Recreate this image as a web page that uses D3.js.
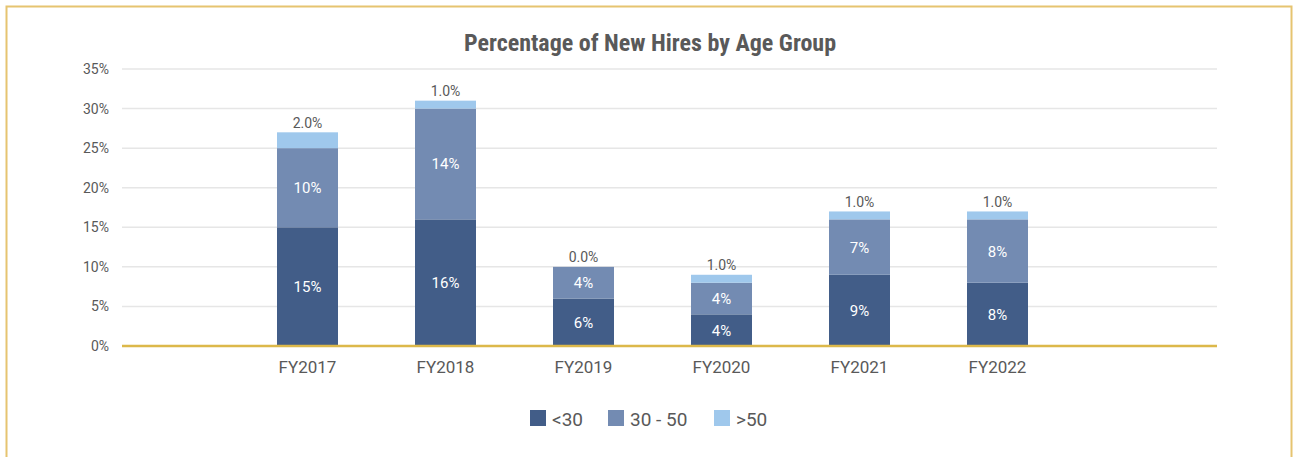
<!DOCTYPE html>
<html>
<head>
<meta charset="utf-8">
<script src="https://cdn.jsdelivr.net/npm/d3@7"></script>
<style>
  html, body { margin: 0; padding: 0; background: #fff; }
  svg text { font-family: Roboto, "Liberation Sans", sans-serif; }
  svg text.title { font-family: "Liberation Sans Narrow", "Arial Narrow", "Roboto Condensed", sans-serif; }
</style>
</head>
<body>
<svg id="chart" width="1293" height="457"></svg>
<script>
// Fiscal years and share of new hires per age group (%)
const years = ["FY2017", "FY2018", "FY2019", "FY2020", "FY2021", "FY2022"];
const under30 = [15, 16, 6, 4, 9, 8];
const age30to50 = [10, 14, 4, 4, 7, 8];
const over50 = [2.0, 1.0, 0.0, 1.0, 1.0, 1.0];
const groupNames = ["<30", "30 - 50", ">50"];
const groupColors = ["#425d88", "#738bb2", "#9fc8ec"];
const yTicks = [0, 5, 10, 15, 20, 25, 30, 35];

const svg = d3.select("#chart");

// Outer frame
svg.append("rect")
  .attr("x", 6.5).attr("y", 6.5)
  .attr("width", 1285).attr("height", 470)
  .attr("fill", "none")
  .attr("stroke", "#e6c470")
  .attr("stroke-width", 2);

const plotLeft = 122, plotRight = 1217;
const y = d3.scaleLinear().domain([0, 35]).range([346, 69]);
const x = d3.scaleBand().domain(years).range([238.5, 1066.5]).paddingInner(0.558).paddingOuter(0.279);

// Title
svg.append("text")
  .attr("class", "title")
  .attr("x", 650).attr("y", 51)
  .attr("text-anchor", "middle")
  .attr("font-size", 24)
  .attr("font-weight", "bold")
  .attr("fill", "#595959")
  .text("Percentage of New Hires by Age Group");

// Gridlines
svg.append("g").selectAll("line")
  .data(yTicks.filter(d => d > 0))
  .join("line")
  .attr("x1", plotLeft).attr("x2", plotRight)
  .attr("y1", d => y(d)).attr("y2", d => y(d))
  .attr("stroke", "#e6e6e6").attr("stroke-width", 1.5);

// Y axis labels
const yAxis = d3.axisLeft(y).tickValues(yTicks).tickFormat(d => d + "%").tickSize(0).tickPadding(0);
svg.append("g")
  .attr("transform", `translate(109,0)`)
  .call(yAxis)
  .call(g => g.select(".domain").remove())
  .call(g => g.selectAll("text").attr("font-size", 14).attr("fill", "#595959"));

// Stacked data
const rows = years.map((yr, i) => ({ year: yr, a: under30[i], b: age30to50[i], c: over50[i] }));
const stack = d3.stack().keys(["a", "b", "c"])(rows);

const layers = svg.append("g").selectAll("g")
  .data(stack)
  .join("g")
  .attr("fill", (d, i) => groupColors[i]);

layers.selectAll("rect")
  .data(d => d)
  .join("rect")
  .attr("x", d => x(d.data.year))
  .attr("width", x.bandwidth())
  .attr("y", d => y(d[1]))
  .attr("height", d => y(d[0]) - y(d[1]));

// Segment labels inside bars (two lower groups)
stack.slice(0, 2).forEach(layer => {
  svg.append("g").selectAll("text")
    .data(layer)
    .join("text")
    .attr("x", d => x(d.data.year) + x.bandwidth() / 2)
    .attr("y", d => (y(d[0]) + y(d[1])) / 2 + 5.5)
    .attr("text-anchor", "middle")
    .attr("font-size", 15)
    .attr("fill", "#ffffff")
    .text(d => (d[1] - d[0]) + "%");
});

// Labels above bars for the oldest group
svg.append("g").selectAll("text")
  .data(stack[2])
  .join("text")
  .attr("x", d => x(d.data.year) + x.bandwidth() / 2)
  .attr("y", d => y(d[1]) - 4.5)
  .attr("text-anchor", "middle")
  .attr("font-size", 14)
  .attr("fill", "#595959")
  .text(d => (d[1] - d[0]).toFixed(1) + "%");

// X axis baseline
svg.append("line")
  .attr("x1", plotLeft).attr("x2", plotRight)
  .attr("y1", y(0)).attr("y2", y(0))
  .attr("stroke", "#dcb84a").attr("stroke-width", 2.5);

// Category labels
const xAxis = d3.axisBottom(x).tickSize(0).tickPadding(0);
svg.append("g")
  .attr("transform", `translate(0,${y(0)})`)
  .call(xAxis)
  .call(g => g.select(".domain").remove())
  .call(g => g.selectAll("text").attr("font-size", 17).attr("fill", "#595959").attr("dy", null).attr("y", 26.5));

// Legend
const legendX = [530, 608, 714];
const legend = svg.append("g").selectAll("g")
  .data(groupNames)
  .join("g")
  .attr("transform", (d, i) => `translate(${legendX[i]},410)`);
legend.append("rect")
  .attr("width", 16).attr("height", 16)
  .attr("fill", (d, i) => groupColors[i]);
legend.append("text")
  .attr("x", 22).attr("y", 15.5)
  .attr("font-size", 19)
  .attr("fill", "#595959")
  .text(d => d);
</script>
</body>
</html>
